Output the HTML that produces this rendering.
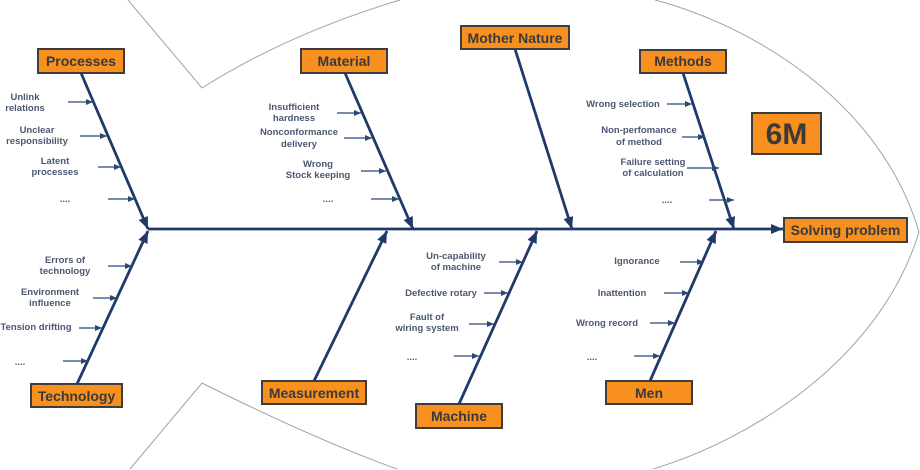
<!DOCTYPE html>
<html><head><meta charset="utf-8"><style>
html,body{margin:0;padding:0;background:#fff;width:920px;height:470px;overflow:hidden;}
svg{display:block;overflow:hidden;}
.box{fill:#F7901E;stroke:#3d3d3d;stroke-width:2;}
.bt{font-family:"Liberation Sans",Arial,sans-serif;font-weight:bold;font-size:14px;fill:#3a3a3a;text-anchor:middle;}
.lb{font-family:"Liberation Sans",Arial,sans-serif;font-weight:bold;font-size:9.5px;fill:#4a5872;text-anchor:middle;}
.bone{stroke:#1f3a68;stroke-width:2.8;fill:none;}
.sub{stroke:#2c4874;stroke-width:1.2;fill:none;}
.fish{stroke:#9aa4b4;stroke-width:1;fill:none;}
</style></head><body>
<svg width="920" height="470" viewBox="0 0 920 470" xmlns="http://www.w3.org/2000/svg">
<defs>
<marker id="big" markerUnits="userSpaceOnUse" markerWidth="14" markerHeight="12" refX="12" refY="5" orient="auto">
<path d="M0,0 L12,5 L0,10 Z" fill="#1f3a68"/>
</marker>
<marker id="sm" markerUnits="userSpaceOnUse" markerWidth="8" markerHeight="8" refX="7" refY="3" orient="auto">
<path d="M0,0 L7,3 L0,6 Z" fill="#2c4874"/>
</marker>
</defs>

<!-- fish outline -->
<path class="fish" d="M128,0 L202,88 C270,45 340,18 400,0"/>
<path class="fish" d="M655,0 C750,25 880,100 919,232"/>
<path class="fish" d="M130,469 L202,383 C260,412 330,445 397,469"/>
<path class="fish" d="M653,469 C750,440 880,360 919,232"/>

<!-- spine -->
<line class="bone" x1="148" y1="229" x2="783" y2="229" marker-end="url(#big)"/>

<!-- bones top -->
<line class="bone" x1="81" y1="73" x2="148" y2="229" marker-end="url(#big)"/>
<line class="bone" x1="345" y1="73" x2="413" y2="229" marker-end="url(#big)"/>
<line class="bone" x1="515" y1="49" x2="572" y2="229" marker-end="url(#big)"/>
<line class="bone" x1="683" y1="73" x2="734" y2="229" marker-end="url(#big)"/>
<!-- bones bottom -->
<line class="bone" x1="77" y1="384" x2="148" y2="231" marker-end="url(#big)"/>
<line class="bone" x1="314" y1="381" x2="387" y2="231" marker-end="url(#big)"/>
<line class="bone" x1="459" y1="404" x2="537" y2="231" marker-end="url(#big)"/>
<line class="bone" x1="650" y1="381" x2="716" y2="231" marker-end="url(#big)"/>

<!-- sub arrows: Processes -->
<line class="sub" x1="68" y1="102" x2="93" y2="102" marker-end="url(#sm)"/>
<line class="sub" x1="80" y1="136" x2="107" y2="136" marker-end="url(#sm)"/>
<line class="sub" x1="98" y1="167" x2="121" y2="167" marker-end="url(#sm)"/>
<line class="sub" x1="108" y1="199" x2="135" y2="199" marker-end="url(#sm)"/>
<!-- Material -->
<line class="sub" x1="337" y1="113" x2="361" y2="113" marker-end="url(#sm)"/>
<line class="sub" x1="344" y1="138" x2="372" y2="138" marker-end="url(#sm)"/>
<line class="sub" x1="361" y1="171" x2="386" y2="171" marker-end="url(#sm)"/>
<line class="sub" x1="371" y1="199" x2="399" y2="199" marker-end="url(#sm)"/>
<!-- Methods -->
<line class="sub" x1="667" y1="104" x2="692" y2="104" marker-end="url(#sm)"/>
<line class="sub" x1="682" y1="137" x2="705" y2="137" marker-end="url(#sm)"/>
<line class="sub" x1="687" y1="168" x2="719" y2="168" marker-end="url(#sm)"/>
<line class="sub" x1="709" y1="200" x2="734" y2="200" marker-end="url(#sm)"/>
<!-- Technology -->
<line class="sub" x1="108" y1="266" x2="132" y2="266" marker-end="url(#sm)"/>
<line class="sub" x1="93" y1="298" x2="117" y2="298" marker-end="url(#sm)"/>
<line class="sub" x1="79" y1="328" x2="102" y2="328" marker-end="url(#sm)"/>
<line class="sub" x1="63" y1="361" x2="88" y2="361" marker-end="url(#sm)"/>
<!-- Machine -->
<line class="sub" x1="499" y1="262" x2="523" y2="262" marker-end="url(#sm)"/>
<line class="sub" x1="484" y1="293" x2="508" y2="293" marker-end="url(#sm)"/>
<line class="sub" x1="469" y1="324" x2="494" y2="324" marker-end="url(#sm)"/>
<line class="sub" x1="454" y1="356" x2="479" y2="356" marker-end="url(#sm)"/>
<!-- Men -->
<line class="sub" x1="680" y1="262" x2="704" y2="262" marker-end="url(#sm)"/>
<line class="sub" x1="664" y1="293" x2="689" y2="293" marker-end="url(#sm)"/>
<line class="sub" x1="650" y1="323" x2="675" y2="323" marker-end="url(#sm)"/>
<line class="sub" x1="634" y1="356" x2="660" y2="356" marker-end="url(#sm)"/>

<!-- labels -->
<text class="lb" x="25" y="100">Unlink</text>
<text class="lb" x="25" y="111">relations</text>
<text class="lb" x="37" y="133">Unclear</text>
<text class="lb" x="37" y="144">responsibility</text>
<text class="lb" x="55" y="164">Latent</text>
<text class="lb" x="55" y="175">processes</text>
<text class="lb" x="65" y="202">....</text>

<text class="lb" x="294" y="110">Insufficient</text>
<text class="lb" x="294" y="121">hardness</text>
<text class="lb" x="299" y="135">Nonconformance</text>
<text class="lb" x="299" y="147">delivery</text>
<text class="lb" x="318" y="167">Wrong</text>
<text class="lb" x="318" y="178">Stock keeping</text>
<text class="lb" x="328" y="202">....</text>

<text class="lb" x="623" y="107">Wrong selection</text>
<text class="lb" x="639" y="133">Non-perfomance</text>
<text class="lb" x="639" y="145">of method</text>
<text class="lb" x="653" y="165">Failure setting</text>
<text class="lb" x="653" y="176">of calculation</text>
<text class="lb" x="667" y="203">....</text>

<text class="lb" x="65" y="263">Errors of</text>
<text class="lb" x="65" y="274">technology</text>
<text class="lb" x="50" y="295">Environment</text>
<text class="lb" x="50" y="306">influence</text>
<text class="lb" x="36" y="330">Tension drifting</text>
<text class="lb" x="20" y="365">....</text>

<text class="lb" x="456" y="259">Un-capability</text>
<text class="lb" x="456" y="270">of machine</text>
<text class="lb" x="441" y="296">Defective rotary</text>
<text class="lb" x="427" y="320">Fault of</text>
<text class="lb" x="427" y="331">wiring system</text>
<text class="lb" x="412" y="360">....</text>

<text class="lb" x="637" y="264">Ignorance</text>
<text class="lb" x="622" y="296">Inattention</text>
<text class="lb" x="607" y="326">Wrong record</text>
<text class="lb" x="592" y="360">....</text>

<!-- boxes -->
<rect class="box" x="38" y="49" width="86" height="24"/>
<text class="bt" x="81" y="66">Processes</text>
<rect class="box" x="301" y="49" width="86" height="24"/>
<text class="bt" x="344" y="66">Material</text>
<rect class="box" x="461" y="26" width="108" height="23"/>
<text class="bt" x="515" y="43">Mother Nature</text>
<rect class="box" x="640" y="50" width="86" height="23"/>
<text class="bt" x="683" y="66">Methods</text>
<rect class="box" x="752" y="113" width="69" height="41"/>
<text class="bt" x="786.5" y="144" style="font-size:30px">6M</text>
<rect class="box" x="784" y="218" width="123" height="24"/>
<text class="bt" x="845.5" y="235">Solving problem</text>

<rect class="box" x="31" y="384" width="91" height="23"/>
<text class="bt" x="76.5" y="401">Technology</text>
<rect class="box" x="262" y="381" width="104" height="23"/>
<text class="bt" x="314" y="398">Measurement</text>
<rect class="box" x="416" y="404" width="86" height="24"/>
<text class="bt" x="459" y="421">Machine</text>
<rect class="box" x="606" y="381" width="86" height="23"/>
<text class="bt" x="649" y="398">Men</text>
</svg>
</body></html>
